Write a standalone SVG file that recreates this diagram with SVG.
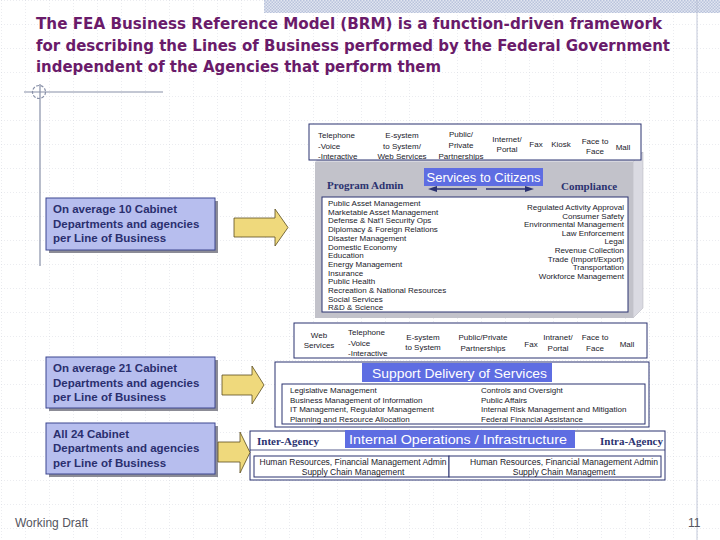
<svg xmlns="http://www.w3.org/2000/svg" width="720" height="540" viewBox="0 0 720 540">
<defs>
<pattern id="grid" x="1" y="0" width="24" height="24" patternUnits="userSpaceOnUse">
<path d="M0 0V24M0 0H24" fill="none" stroke="#CDCFD9" stroke-width="0.8" stroke-dasharray="1 2"/>
</pattern>
<pattern id="hatch" width="3" height="3" patternUnits="userSpaceOnUse">
<rect width="3" height="3" fill="#E2E6F0"/>
<rect width="1.5" height="1.5" fill="#B9C3DC"/>
<rect x="1.5" y="1.5" width="1.5" height="1.5" fill="#B9C3DC"/>
</pattern>
<clipPath id="c1"><rect x="309" y="124" width="332" height="36"/></clipPath>
<clipPath id="c2"><rect x="294" y="323" width="353" height="35"/></clipPath>
<clipPath id="c3"><rect x="254" y="456" width="410" height="21"/></clipPath>
</defs>
<style>
.title{font-family:"DejaVu Sans","Liberation Sans",sans-serif;font-weight:bold;font-size:16px;fill:#6A1B6A}
.sm{font-family:"Liberation Sans",Arial,sans-serif;font-size:8px;fill:#1A1A2A}
.md{font-family:"Liberation Sans",Arial,sans-serif;font-size:8.5px;fill:#1A1A2A}
.lbl{font-family:"Liberation Sans",Arial,sans-serif;font-size:13px;fill:#FFFFFF}
.ser{font-family:"Liberation Serif","Times New Roman",serif;font-weight:bold;font-size:11px;fill:#2B3270}
.lb{font-family:"Liberation Sans",Arial,sans-serif;font-weight:bold;font-size:11.5px;fill:#2A2F6E}
.box{fill:#FFFFFF;stroke:#2B3270;stroke-width:1}
.blue{fill:#5E6DE2}
.lbox{fill:#B7BEEE;stroke:#3C4690;stroke-width:1}
.shadow{fill:#8C8C96}
.yarrow{fill:#EFD97C;stroke:#5A4C1E;stroke-width:0.8}
.navy{fill:#2B3270}
.deco{stroke:#8890A8;stroke-width:1.2;fill:none}
.foot{font-family:"Liberation Sans",Arial,sans-serif;font-size:12px;fill:#555560}
</style>
<rect width="720" height="540" fill="#FFFFFF"/>
<rect width="720" height="540" fill="url(#grid)"/>
<rect x="264" y="0" width="456" height="13" fill="url(#hatch)"/>
<line x1="697" y1="0" x2="697" y2="540" stroke="#B4BBD0" stroke-width="0.8"/>
<g id="decoration">
<circle cx="39" cy="92" r="6.5" class="deco" stroke-dasharray="3 1.5"/>
<line x1="24" y1="92" x2="163" y2="92" class="deco"/>
<line x1="40" y1="84" x2="40" y2="266" class="deco"/>
</g>
<g id="title">
<text class="title" x="36" y="29" textLength="626" lengthAdjust="spacingAndGlyphs">The FEA Business Reference Model (BRM) is a function-driven framework</text>
<text class="title" x="36" y="51" textLength="634" lengthAdjust="spacingAndGlyphs">for describing the Lines of Business performed by the Federal Government</text>
<text class="title" x="36" y="72" textLength="405" lengthAdjust="spacingAndGlyphs">independent of the Agencies that perform them</text>
</g>
<g id="services-to-citizens">
<polygon points="315,162 325,152 643,152 633,162" fill="#D6D6DE"/>
<polygon points="633,162 643,152 643,308 633,318" fill="#DADAE2" stroke="#B0B0BA" stroke-width="0.5"/>
<rect x="315" y="162" width="318" height="156" fill="#C2C2CA"/>
<text class="ser" x="327" y="189">Program Admin</text>
<text class="ser" x="561" y="190">Compliance</text>
<rect x="424" y="168" width="119" height="18" class="blue"/>
<text class="lbl" x="426.5" y="182" textLength="114" lengthAdjust="spacingAndGlyphs">Services to Citizens</text>
<rect x="322" y="197" width="306" height="115" class="box"/>
<g class="sm">
<text x="328" y="206">Public Asset Management</text>
<text x="328" y="214.7">Marketable Asset Management</text>
<text x="328" y="223.4">Defense &amp; Nat'l Security Ops</text>
<text x="328" y="232.1">Diplomacy &amp; Foreign Relations</text>
<text x="328" y="240.8">Disaster Management</text>
<text x="328" y="249.5">Domestic Economy</text>
<text x="328" y="258.2">Education</text>
<text x="328" y="266.9">Energy Management</text>
<text x="328" y="275.6">Insurance</text>
<text x="328" y="284.3">Public Health</text>
<text x="328" y="293">Recreation &amp; National Resources</text>
<text x="328" y="301.7">Social Services</text>
<text x="328" y="310.4">R&amp;D &amp; Science</text>
</g>
<g class="sm" text-anchor="end">
<text x="624" y="210">Regulated Activity Approval</text>
<text x="624" y="218.6">Consumer Safety</text>
<text x="624" y="227.2">Environmental Management</text>
<text x="624" y="235.8">Law Enforcement</text>
<text x="624" y="244.4">Legal</text>
<text x="624" y="253">Revenue Collection</text>
<text x="624" y="261.6">Trade (Import/Export)</text>
<text x="624" y="270.2">Transportation</text>
<text x="624" y="278.8">Workforce Management</text>
</g>
</g>
<g id="channels-citizens">
<rect x="309" y="124" width="332" height="36" class="box"/>
<g class="sm" clip-path="url(#c1)">
<text x="318" y="138">Telephone</text>
<text x="318" y="148.5">-Voice</text>
<text x="318" y="159">-Interactive</text>
<g text-anchor="middle">
<text x="402" y="138">E-system</text>
<text x="402" y="148.5">to System/</text>
<text x="402" y="159">Web Services</text>
<text x="461" y="137">Public/</text>
<text x="461" y="148">Private</text>
<text x="461" y="159">Partnerships</text>
<text x="507" y="142">Internet/</text>
<text x="507" y="152">Portal</text>
<text x="536" y="147">Fax</text>
<text x="561" y="147">Kiosk</text>
<text x="595" y="144">Face to</text>
<text x="595" y="154">Face</text>
<text x="623" y="150">Mall</text>
</g>
</g>
</g>
<g id="box-10-cabinet">
<rect x="49" y="201" width="169" height="52" class="shadow"/>
<rect x="46" y="198" width="169" height="52" class="lbox"/>
<text class="lb" x="53" y="213">On average 10 Cabinet</text>
<text class="lb" x="53" y="227.5">Departments and agencies</text>
<text class="lb" x="53" y="242">per Line of Business</text>
</g>
<g id="box-21-cabinet">
<rect x="49" y="360" width="169" height="51" class="shadow"/>
<rect x="46" y="357" width="169" height="51" class="lbox"/>
<text class="lb" x="53" y="372">On average 21 Cabinet</text>
<text class="lb" x="53" y="386.5">Departments and agencies</text>
<text class="lb" x="53" y="401">per Line of Business</text>
</g>
<g id="box-24-cabinet">
<rect x="49" y="426" width="169" height="51" class="shadow"/>
<rect x="46" y="423" width="169" height="51" class="lbox"/>
<text class="lb" x="53" y="437.5">All 24 Cabinet</text>
<text class="lb" x="53" y="452">Departments and agencies</text>
<text class="lb" x="53" y="466.5">per Line of Business</text>
</g>
<g id="channels-support">
<rect x="294" y="323" width="353" height="35" class="box"/>
<g class="sm" clip-path="url(#c2)">
<text x="348" y="335">Telephone</text>
<text x="348" y="345.5">-Voice</text>
<text x="348" y="356">-Interactive</text>
<g text-anchor="middle">
<text x="319" y="338">Web</text>
<text x="319" y="348">Services</text>
<text x="423" y="340">E-system</text>
<text x="423" y="350">to System</text>
<text x="483" y="340">Public/Private</text>
<text x="483" y="350.5">Partnerships</text>
<text x="531" y="346.5">Fax</text>
<text x="558" y="340">Intranet/</text>
<text x="558" y="351">Portal</text>
<text x="595" y="340">Face to</text>
<text x="595" y="351">Face</text>
<text x="627" y="346.5">Mall</text>
</g>
</g>
</g>
<g id="support-delivery">
<rect x="275" y="362" width="374" height="65" class="box"/>
<rect x="362" y="363" width="190" height="19" class="blue"/>
<text class="lbl" x="372" y="378" textLength="175" lengthAdjust="spacingAndGlyphs">Support Delivery of Services</text>
<rect x="282" y="384" width="363" height="40" class="box"/>
<g class="sm">
<text x="290" y="393">Legislative Management</text>
<text x="290" y="402.6">Business Management of Information</text>
<text x="290" y="412.2">IT Management, Regulator Management</text>
<text x="290" y="421.8">Planning and Resource Allocation</text>
<text x="481" y="393">Controls and Oversight</text>
<text x="481" y="402.6">Public Affairs</text>
<text x="481" y="412.2">Internal Risk Management and Mitigation</text>
<text x="481" y="421.8">Federal Financial Assistance</text>
</g>
</g>
<g id="internal-operations">
<rect x="250" y="431" width="415" height="49" class="box"/>
<line x1="250" y1="450" x2="665" y2="450" stroke="#2B3270" stroke-width="0.8"/>
<rect x="345" y="430" width="230" height="18" class="blue"/>
<text class="lbl" x="349" y="444" textLength="218" lengthAdjust="spacingAndGlyphs">Internal Operations / Infrastructure</text>
<text class="ser" x="257" y="445">Inter-Agency</text>
<text class="ser" x="600" y="445">Intra-Agency</text>
<rect x="254" y="456" width="195" height="21" class="box"/>
<rect x="449" y="456" width="212" height="21" class="box"/>
<g class="md" text-anchor="middle" clip-path="url(#c3)">
<text x="353" y="465" textLength="187" lengthAdjust="spacingAndGlyphs">Human Resources, Financial Management Admin</text>
<text x="353" y="475">Supply Chain Management</text>
<text x="564" y="465" textLength="188" lengthAdjust="spacingAndGlyphs">Human Resources, Financial Management Admin</text>
<text x="564" y="475">Supply Chain Management</text>
</g>
</g>
<g id="connectors">
<polygon class="yarrow" points="234,218 275,218 275,209 288,227.5 275,246 275,237 234,237"/>
<polygon class="yarrow" points="222,375 252,375 252,366 264,385 252,404 252,395 222,395"/>
<polygon class="yarrow" points="218,442 240,442 240,432 250,452.5 240,473 240,462 218,462"/>
<polygon class="navy" points="477,188.2 437,188.2 437,186 428,189 437,192 437,189.8 477,189.8"/>
<polygon class="navy" points="486,188.2 525,188.2 525,186 534,189 525,192 525,189.8 486,189.8"/>
</g>
<g id="footer">
<text class="foot" x="15" y="527">Working Draft</text>
<text class="foot" x="688" y="527">11</text>
</g>
</svg>
